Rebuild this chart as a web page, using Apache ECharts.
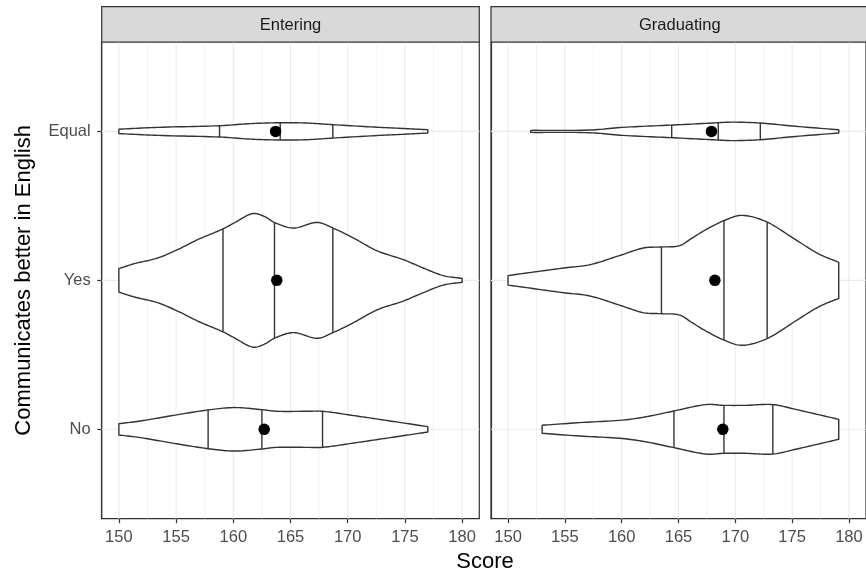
<!DOCTYPE html>
<html>
<head>
<meta charset="utf-8">
<script src="https://cdn.jsdelivr.net/npm/echarts@6/dist/echarts.min.js"></script>
<style>
html,body{margin:0;padding:0;background:#fff;}
#chart{width:866px;height:573px;}
</style>
</head>
<body>
<div id="chart"></div>
<script>
// ---- data ----
const categories = ['No', 'Yes', 'Equal'];
const facets = ['Entering', 'Graduating'];
const majorTicks = [150, 155, 160, 165, 170, 175, 180];
const minorTicks = [152.5, 157.5, 162.5, 167.5, 172.5, 177.5];

// violin half-width profiles: [score, half width in category units]
const enteringNo = [[150,0.038],[151.9,0.056],[154.8,0.094],[157.8,0.130],[160.1,0.146],[162.5,0.132],[163.8,0.121],[166.4,0.121],[167.8,0.121],[170.8,0.089],[173.7,0.056],[177,0.018]];
const enteringYes = [[150,0.079],[151.36,0.112],[153.39,0.150],[155.13,0.206],[156.88,0.273],[159.14,0.347],[160.07,0.385],[161.66,0.448],[162.68,0.430],[163.69,0.385],[165.29,0.351],[167.32,0.389],[168.71,0.351],[170.51,0.284],[172.54,0.199],[174.86,0.139],[176.6,0.083],[178.34,0.032],[180,0.013]];
const enteringEqual = [[150,0.015],[153.4,0.027],[158.8,0.038],[161.5,0.052],[164.1,0.058],[166.4,0.056],[168.7,0.045],[172.3,0.029],[175.2,0.018],[177,0.011]];
const graduatingNo = [[153,0.027],[156.3,0.045],[160.1,0.062],[162.2,0.085],[164.6,0.123],[167.4,0.166],[169,0.161],[170.9,0.161],[173.3,0.166],[175.3,0.134],[179.1,0.067]];
const graduatingYes = [[150,0.032],[154.9,0.083],[157.2,0.105],[159.8,0.166],[161.9,0.217],[163.5,0.224],[165.1,0.233],[166.2,0.284],[167.4,0.340],[169,0.401],[170.6,0.436],[172.8,0.391],[175.3,0.273],[177.3,0.179],[179.1,0.121]];
const graduatingEqual = [[152,0.007],[157.2,0.009],[160.1,0.027],[164.3,0.042],[168,0.056],[169.7,0.062],[172.2,0.056],[175.3,0.034],[179.1,0.011]];

// quantiles (25%, 50%, 75%) per category No, Yes, Equal
const enteringQuantiles = [[157.8,162.5,167.8],[159.1,163.6,168.7],[158.8,164.1,168.7]];
const graduatingQuantiles = [[164.6,169.0,173.3],[163.5,169.0,172.8],[164.4,168.5,172.2]];
// means per category No, Yes, Equal
const enteringMeans = [162.7, 163.8, 163.7];
const graduatingMeans = [168.9, 168.2, 167.9];

const profiles = [[enteringNo, enteringYes, enteringEqual],[graduatingNo, graduatingYes, graduatingEqual]];
const quantiles = [enteringQuantiles, graduatingQuantiles];
const means = [enteringMeans, graduatingMeans];

// ---- helpers (smooth drawing of the outline) ----
function tangents(p){
  const n = p.length, m = [];
  for (let i=0;i<n;i++){
    if (i===0) m.push((p[1][1]-p[0][1])/(p[1][0]-p[0][0]));
    else if (i===n-1) m.push((p[n-1][1]-p[n-2][1])/(p[n-1][0]-p[n-2][0]));
    else m.push((p[i+1][1]-p[i-1][1])/(p[i+1][0]-p[i-1][0]));
  }
  return m;
}
function hermite(p, m, i, t){
  const x0=p[i][0], x1=p[i+1][0], h=x1-x0;
  const y0=p[i][1], y1=p[i+1][1];
  const t2=t*t, t3=t2*t;
  return (2*t3-3*t2+1)*y0 + (t3-2*t2+t)*h*m[i] + (-2*t3+3*t2)*y1 + (t3-t2)*h*m[i+1];
}
function sampleCurve(p){
  const m = tangents(p), out = [];
  for (let i=0;i<p.length-1;i++){
    const steps = 12;
    for (let s=0;s<steps;s++){
      const t=s/steps;
      out.push([p[i][0]+(p[i+1][0]-p[i][0])*t, Math.max(0,hermite(p,m,i,t))]);
    }
  }
  out.push(p[p.length-1]);
  return out;
}
function evalAt(p, x){
  const m = tangents(p);
  for (let i=0;i<p.length-1;i++){
    if (x>=p[i][0] && x<=p[i+1][0]){
      return hermite(p,m,i,(x-p[i][0])/(p[i+1][0]-p[i][0]));
    }
  }
  return 0;
}

const LINE = '#333333', LW = 1.4;

function makeViolinRender(facetIdx){
  return function(params, api){
    const ci = params.dataIndex;
    const prof = profiles[facetIdx][ci];
    const yc = api.value(1);
    const pts = sampleCurve(prof);
    const top = pts.map(d => api.coord([d[0], yc + d[1]]));
    const bot = pts.map(d => api.coord([d[0], yc - d[1]])).reverse();
    const children = [{
      type:'polygon',
      shape:{points: top.concat(bot)},
      style:{fill:'#ffffff', stroke:LINE, lineWidth:LW, lineJoin:'round'}
    }];
    quantiles[facetIdx][ci].forEach(q => {
      const w = evalAt(prof, q);
      const a = api.coord([q, yc + w]), b = api.coord([q, yc - w]);
      children.push({type:'line', shape:{x1:a[0],y1:a[1],x2:b[0],y2:b[1]}, style:{stroke:LINE, lineWidth:LW}});
    });
    return {type:'group', children};
  };
}

function gridRender(params, api){
  const cs = params.coordSys;
  const kind = api.value(1);
  const v = api.value(0);
  if (kind === 2){
    const p = api.coord([150, v]);
    return {type:'line', shape:{x1:cs.x, y1:p[1], x2:cs.x+cs.width, y2:p[1]}, style:{stroke:'#EBEBEB', lineWidth:1.1}};
  }
  const p = api.coord([v, 2]);
  return {type:'line', shape:{x1:p[0], y1:cs.y, x2:p[0], y2:cs.y+cs.height}, style:{stroke:'#EBEBEB', lineWidth: kind===0 ? 1.1 : 0.6}};
}

const gridData = [].concat(
  minorTicks.map(v => [v, 1]),
  majorTicks.map(v => [v, 0]),
  categories.map((c, i) => [i + 1, 2])
);

const FONT = '"Liberation Sans", Arial, Helvetica, sans-serif';
const panelW = 377.6, panelTop = 42, panelH = 476.7;
const panelLefts = [101.7, 491];

const grids = panelLefts.map(l => ({left:l, top:panelTop, width:panelW, height:panelH, show:true, backgroundColor:'#ffffff', borderColor:LINE, borderWidth:1.2, containLabel:false}));

const xAxes = facets.map((f, i) => ({
  type:'value', gridIndex:i, min:148.5, max:181.5,
  axisLine:{show:true, lineStyle:{color:LINE, width:1.2}},
  axisTick:{show:true, length:4.5, customValues: majorTicks, lineStyle:{color:LINE, width:1.2}},
  axisLabel:{show:true, customValues: majorTicks, color:'#4D4D4D', fontSize:16.5, fontFamily:FONT, margin:10,
    formatter: v => (majorTicks.indexOf(v) >= 0 ? String(v) : '')},
  splitLine:{show:false}, minorTick:{show:false}, minorSplitLine:{show:false}
}));

const yAxes = facets.map((f, i) => ({
  type:'value', gridIndex:i, min:0.4, max:3.6,
  axisLine:{show:true, lineStyle:{color:LINE, width:1.2}},
  axisTick:{show:i===0, length:4.5, customValues:[1,2,3], lineStyle:{color:LINE, width:1.2}},
  axisLabel:{show:i===0, customValues:[1,2,3], color:'#4D4D4D', fontSize:16.5, fontFamily:FONT, margin:11,
    formatter: v => (Number.isInteger(v) && v>=1 && v<=3 ? categories[v-1] : '')},
  splitLine:{show:false},
  name: i===0 ? 'Communicates better in English' : '',
  nameLocation:'middle', nameRotate:90, nameGap:67,
  nameTextStyle:{fontSize:22, color:'#000000', fontFamily:FONT}
}));

const series = [];
facets.forEach((f, i) => {
  series.push({
    type:'custom', name:'grid'+i, xAxisIndex:i, yAxisIndex:i, z:1, silent:true,
    renderItem: gridRender, data: gridData, clip:false
  });
  series.push({
    type:'custom', name:f+' violin', xAxisIndex:i, yAxisIndex:i, z:2, silent:true,
    renderItem: makeViolinRender(i),
    data: categories.map((c, ci) => [quantiles[i][ci][1], ci + 1]),
    encode:{x:0, y:1}, clip:false
  });
  series.push({
    type:'scatter', name:f+' mean', xAxisIndex:i, yAxisIndex:i, z:3,
    symbol:'circle', symbolSize:11.5, itemStyle:{color:'#000000', opacity:1},
    data: categories.map((c, ci) => [means[i][ci], ci + 1])
  });
});

const graphics = [];
facets.forEach((f, i) => {
  graphics.push({type:'rect', shape:{x:panelLefts[i], y:6.7, width:panelW, height:panelTop-6.7},
    style:{fill:'#D9D9D9', stroke:LINE, lineWidth:1.2}, z:10});
  graphics.push({type:'text', x:panelLefts[i]+panelW/2, y:(6.7+panelTop)/2+1.5,
    style:{text:f, fill:'#1A1A1A', font:'16.5px ' + FONT, textAlign:'center', textVerticalAlign:'middle'}, z:11});
});
graphics.push({type:'text', x:485, y:562, style:{text:'Score', fill:'#000000', font:'22px ' + FONT, textAlign:'center', textVerticalAlign:'middle'}, z:11});

const chart = echarts.init(document.getElementById('chart'), null, {renderer:'canvas'});
chart.setOption({
  animation:false,
  backgroundColor:'#ffffff',
  textStyle:{fontFamily:FONT},
  grid: grids,
  xAxis: xAxes,
  yAxis: yAxes,
  series: series,
  graphic: graphics
});
</script>
</body>
</html>
